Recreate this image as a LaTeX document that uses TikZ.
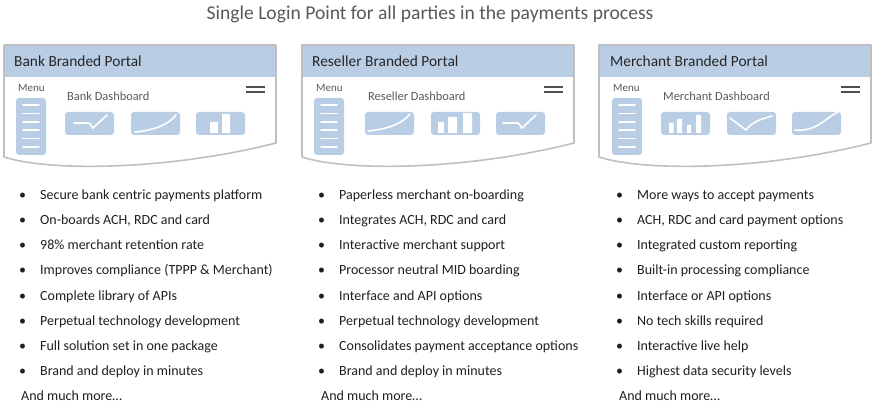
\documentclass[tikz,border=0pt]{standalone}
\usepackage{fontspec}
\setmainfont{Carlito}
\definecolor{hdrblue}{HTML}{B9CDE5}
\definecolor{tileblue}{HTML}{B9CDE5}
\definecolor{framegray}{HTML}{BFBFBF}
\definecolor{titlegray}{HTML}{595959}
\definecolor{textdark}{HTML}{1F1F1F}
\definecolor{burgergray}{HTML}{505050}
\begin{document}
\begin{tikzpicture}[x=1pt,y=-1pt,
  every node/.style={inner sep=0pt,anchor=base west,text=textdark},
  title/.style={anchor=base,text=titlegray,font=\fontsize{19.6}{22}\selectfont},
  portal/.style={text=black!85,font=\fontsize{15.4}{17}\selectfont},
  small/.style={text=titlegray,font=\fontsize{11}{12}\selectfont},
  dashlabel/.style={text=titlegray,font=\fontsize{12.4}{14}\selectfont},
  item/.style={font=\fontsize{14}{16}\selectfont},
  frame/.style={draw=framegray,line width=1.6pt,line join=round},
  tile/.style={fill=tileblue,rounded corners=3pt},
  trace/.style={draw=white,line width=1.6pt,line cap=round},
  burger/.style={draw=burgergray,line width=1.8pt}]
\useasboundingbox (0,0) rectangle (881,414);
\node[title] (title) at (430,20) {Single Login Point for all parties in the payments process};
% bank
\begin{scope}[xshift=0pt]
\fill[hdrblue] (4,45) rectangle (276,77);
\draw[frame] (4,157) -- (4,45) -- (276,45) -- (276,143) .. controls (170,170) and (50,172) .. (4,157) -- cycle;
\node[portal]    (hdr0)  at (14,67)  {Bank Branded Portal};
\node[small]     (menu0) at (18,92)  {Menu};
\node[dashlabel] (dash0) at (67,101) {Bank Dashboard};
\draw[burger] (246,87) -- (265,87) (246,92) -- (265,92);
\fill[tile] (16,98) rectangle (46,155);
\draw[trace] (23,105) -- (39,105) (23,113.4) -- (39,113.4) (23,121.8) -- (39,121.8)
             (23,130.2) -- (39,130.2) (23,138.6) -- (39,138.6) (23,147) -- (39,147);
\fill[tile] (65,112) rectangle (114,135);
\draw[trace] (74,123) -- (88,123) .. controls (91,123) and (92,128) .. (93,128) -- (107,115);
\fill[tile] (131,112) rectangle (180,135);
\draw[trace] (135,132) .. controls (156,130) and (169,124) .. (176,115);
\fill[tile] (196,112) rectangle (245,135);
\fill[white] (210,122) rectangle (218,133) (222,114) rectangle (230,133);
\end{scope}
% reseller
\begin{scope}[xshift=298pt]
\fill[hdrblue] (4,45) rectangle (276,77);
\draw[frame] (4,157) -- (4,45) -- (276,45) -- (276,143) .. controls (170,170) and (50,172) .. (4,157) -- cycle;
\node[portal]    (hdr1)  at (14,67)  {Reseller Branded Portal};
\node[small]     (menu1) at (18,92)  {Menu};
\node[dashlabel] (dash1) at (70,101) {Reseller Dashboard};
\draw[burger] (246,87) -- (265,87) (246,92) -- (265,92);
\fill[tile] (16,98) rectangle (46,155);
\draw[trace] (23,105) -- (39,105) (23,113.4) -- (39,113.4) (23,121.8) -- (39,121.8)
             (23,130.2) -- (39,130.2) (23,138.6) -- (39,138.6) (23,147) -- (39,147);
\fill[tile] (67,112) rectangle (116,135);
\draw[trace] (70,131) .. controls (91,129) and (105,123) .. (112,114);
\fill[tile] (133,112) rectangle (182,135);
\fill[white] (140,122) rectangle (146,133) (150,117) rectangle (159,133) (165,113) rectangle (174,133);
\fill[tile] (198,112) rectangle (247,135);
\draw[trace] (205,123) -- (219,123) .. controls (222,123) and (223,128) .. (224,128) -- (238,115);
\end{scope}
% merchant
\begin{scope}[xshift=595pt]
\fill[hdrblue] (4,45) rectangle (276,77);
\draw[frame] (4,157) -- (4,45) -- (276,45) -- (276,143) .. controls (170,170) and (50,172) .. (4,157) -- cycle;
\node[portal]    (hdr2)  at (15,67)  {Merchant Branded Portal};
\node[small]     (menu2) at (18,92)  {Menu};
\node[dashlabel] (dash2) at (68,101) {Merchant Dashboard};
\draw[burger] (246,87) -- (265,87) (246,92) -- (265,92);
\fill[tile] (17,98) rectangle (47,155);
\draw[trace] (24,105) -- (40,105) (24,113.4) -- (40,113.4) (24,121.8) -- (40,121.8)
             (24,130.2) -- (40,130.2) (24,138.6) -- (40,138.6) (24,147) -- (40,147);
\fill[tile] (66,112) rectangle (115,135);
\fill[white] (74,123) rectangle (78.5,133) (82,119) rectangle (87,133) (92,125) rectangle (96,133) (101,115) rectangle (106,133);
\fill[tile] (132,112) rectangle (181,135);
\draw[trace] (135,118) -- (151,130) .. controls (157,122) and (166,119) .. (177,116);
\fill[tile] (197,112) rectangle (246,135);
\draw[trace] (200,130) .. controls (222,132) and (230,118) .. (243,112);
\end{scope}
% bullet lists
\node[item] (b1) at (19,200) {\makebox[21pt][l]{•}Secure bank centric payments platform};
\node[item] (b2) at (19,225) {\makebox[21pt][l]{•}On-boards ACH, RDC and card};
\node[item] (b3) at (19,250) {\makebox[21pt][l]{•}98\% merchant retention rate};
\node[item] (b4) at (19,275) {\makebox[21pt][l]{•}Improves compliance (TPPP \& Merchant)};
\node[item] (b5) at (19,300) {\makebox[21pt][l]{•}Complete library of APIs};
\node[item] (b6) at (19,325) {\makebox[21pt][l]{•}Perpetual technology development};
\node[item] (b7) at (19,350) {\makebox[21pt][l]{•}Full solution set in one package};
\node[item] (b8) at (19,375) {\makebox[21pt][l]{•}Brand and deploy in minutes};
\node[item] (b9) at (21,400) {And much more…};
\node[item] (r1) at (318,200) {\makebox[21pt][l]{•}Paperless merchant on-boarding};
\node[item] (r2) at (318,225) {\makebox[21pt][l]{•}Integrates ACH, RDC and card};
\node[item] (r3) at (318,250) {\makebox[21pt][l]{•}Interactive merchant support};
\node[item] (r4) at (318,275) {\makebox[21pt][l]{•}Processor neutral MID boarding};
\node[item] (r5) at (318,300) {\makebox[21pt][l]{•}Interface and API options};
\node[item] (r6) at (318,325) {\makebox[21pt][l]{•}Perpetual technology development};
\node[item] (r7) at (318,350) {\makebox[21pt][l]{•}Consolidates payment acceptance options};
\node[item] (r8) at (318,375) {\makebox[21pt][l]{•}Brand and deploy in minutes};
\node[item] (r9) at (321,400) {And much more…};
\node[item] (m1) at (616,200) {\makebox[21pt][l]{•}More ways to accept payments};
\node[item] (m2) at (616,225) {\makebox[21pt][l]{•}ACH, RDC and card payment options};
\node[item] (m3) at (616,250) {\makebox[21pt][l]{•}Integrated custom reporting};
\node[item] (m4) at (616,275) {\makebox[21pt][l]{•}Built-in processing compliance};
\node[item] (m5) at (616,300) {\makebox[21pt][l]{•}Interface or API options};
\node[item] (m6) at (616,325) {\makebox[21pt][l]{•}No tech skills required};
\node[item] (m7) at (616,350) {\makebox[21pt][l]{•}Interactive live help};
\node[item] (m8) at (616,375) {\makebox[21pt][l]{•}Highest data security levels};
\node[item] (m9) at (619,400) {And much more…};
\end{tikzpicture}
\end{document}
